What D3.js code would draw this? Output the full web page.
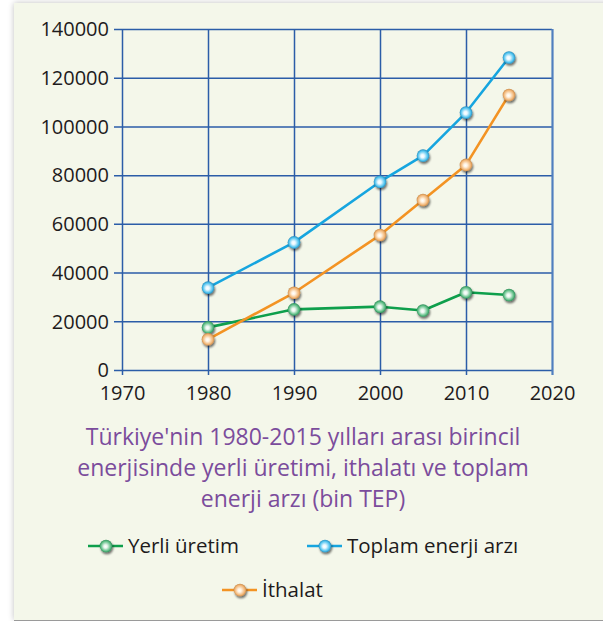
<!DOCTYPE html>
<html><head><meta charset="utf-8">
<script src="https://cdn.jsdelivr.net/npm/d3@7"></script>
<style>
html,body{margin:0;padding:0;background:#fff;}
svg{display:block;}
</style></head>
<body>
<script>
const years = [1980, 1990, 2000, 2005, 2010, 2015];
const yerliUretim = [17500, 24900, 26000, 24400, 31900, 30800];
const ithalat = [12600, 31700, 55400, 69800, 84200, 112900];
const toplamArz = [33800, 52400, 77300, 88000, 105700, 128300];
const xTicks = [1970, 1980, 1990, 2000, 2010, 2020];
const yTicks = [0, 20000, 40000, 60000, 80000, 100000, 120000, 140000];
const titleLines = ["Türkiye'nin 1980-2015 yılları arası birincil", "enerjisinde yerli üretimi, ithalatı ve toplam", "enerji arzı (bin TEP)"];
const seriesNames = ["Yerli üretim", "Toplam enerji arzı", "İthalat"];

const W = 603, H = 621;
const svg = d3.select("body").append("svg").attr("width", W).attr("height", H);
const defs = svg.append("defs");

// panel shadow
const sh = defs.append("filter").attr("id","pshadow").attr("x","-5%").attr("y","-5%").attr("width","110%").attr("height","110%");
sh.append("feGaussianBlur").attr("in","SourceAlpha").attr("stdDeviation",3);
sh.append("feOffset").attr("dx",0).attr("dy",0).attr("result","b");
sh.append("feComponentTransfer").append("feFuncA").attr("type","linear").attr("slope",0.25);
const shm = sh.append("feMerge"); shm.append("feMergeNode"); shm.append("feMergeNode").attr("in","SourceGraphic");

svg.append("rect").attr("x",14).attr("y",3).attr("width",W-14+10).attr("height",617)
  .attr("fill","#f4f7ea").attr("filter","url(#pshadow)");
svg.append("line").attr("x1",14).attr("x2",W).attr("y1",620.5).attr("y2",620.5).attr("stroke","#9a9a9a").attr("stroke-width",1);

// marker shadow
const ms = defs.append("filter").attr("id","mshadow").attr("x","-50%").attr("y","-50%").attr("width","200%").attr("height","200%");
ms.append("feGaussianBlur").attr("in","SourceAlpha").attr("stdDeviation",1.3);
ms.append("feOffset").attr("dx",1.2).attr("dy",1.5).attr("result","o");
ms.append("feComponentTransfer").append("feFuncA").attr("type","linear").attr("slope",0.55);
const msm = ms.append("feMerge"); msm.append("feMergeNode"); msm.append("feMergeNode").attr("in","SourceGraphic");

const styles = [
  {name: seriesNames[0], values: yerliUretim, line:"#0e9f4c", light:"#e9f6ee", mid:"#5fbf86", dark:"#1d7a48", id:"gG"},
  {name: seriesNames[2], values: ithalat, line:"#f39323", light:"#fff3e3", mid:"#f2b676", dark:"#b9793a", id:"gO"},
  {name: seriesNames[1], values: toplamArz, line:"#16a5df", light:"#eaf8ff", mid:"#4fc3ef", dark:"#1b78a8", id:"gB"}
];
styles.forEach(s => {
  const g = defs.append("radialGradient").attr("id", s.id).attr("cx","50%").attr("cy","50%").attr("r","55%").attr("fx","45%").attr("fy","55%");
  g.append("stop").attr("offset","0%").attr("stop-color","#ffffff");
  g.append("stop").attr("offset","25%").attr("stop-color",s.light);
  g.append("stop").attr("offset","70%").attr("stop-color",s.mid);
  g.append("stop").attr("offset","100%").attr("stop-color",s.dark);
});

const x = d3.scaleLinear().domain([1970, 2020]).range([122, 552]);
const y = d3.scaleLinear().domain([0, 140000]).range([370, 29]);
const gridColor = "#2b5da8";
const font = "'Open Sans', 'Noto Sans', sans-serif";
const fs = 20;

// Y axis / grid
const yAxis = svg.append("g").attr("transform","translate(122,0)")
  .call(d3.axisLeft(y).tickValues(yTicks).tickFormat(d3.format("d")).tickSize(0).tickPadding(13));
yAxis.select(".domain").remove();
yAxis.selectAll(".tick line").attr("x1",-8).attr("x2",x(2020)-122).attr("stroke",gridColor).attr("stroke-width",1.5);
yAxis.selectAll(".tick text").attr("font-family",font).attr("font-size",fs).attr("fill","#1e1b1c").attr("dy","0.34em");

// X axis / grid
const xAxis = svg.append("g").attr("transform","translate(0,370)")
  .call(d3.axisBottom(x).tickValues(xTicks).tickFormat(d3.format("d")).tickSize(0).tickPadding(16));
xAxis.select(".domain").remove();
xAxis.selectAll(".tick line").attr("y1",5).attr("y2",y(140000)-370).attr("stroke",gridColor).attr("stroke-width",1.5);
xAxis.selectAll(".tick").filter(d => d===2020).select("line").attr("stroke","#4f7fbf").attr("stroke-width",2.2);
xAxis.selectAll(".tick text").attr("font-family",font).attr("font-size",fs).attr("fill","#1e1b1c").attr("dy","0.71em");

// lines
const lineGen = d3.line().x((d,i)=>x(years[i])).y(d=>y(d));
styles.forEach(s => {
  svg.append("path").datum(s.values).attr("d", lineGen).attr("fill","none")
    .attr("stroke", s.line).attr("stroke-width", 2.6).attr("stroke-linejoin","round");
});
styles.forEach(s => {
  svg.append("g").selectAll("circle").data(s.values).join("circle")
    .attr("cx",(d,i)=>x(years[i])).attr("cy",d=>y(d)).attr("r",6.3)
    .attr("fill",`url(#${s.id})`).attr("filter","url(#mshadow)");
});

// title
svg.append("text").attr("x",303).attr("y",445).attr("text-anchor","middle")
  .attr("font-family",font).attr("font-size",23).attr("fill","#7b4c9c")
  .selectAll("tspan").data(titleLines).join("tspan")
  .attr("x",303).attr("dy",(d,i)=> i===0?0:31).text(d=>d);

// legend
const legendItems = [
  {s: styles[0], cx: 106, cy: 546},
  {s: styles[2], cx: 325, cy: 546},
  {s: styles[1], cx: 240, cy: 590}
];
legendItems.forEach(it => {
  const g = svg.append("g");
  g.append("line").attr("x1",it.cx-18).attr("x2",it.cx+17).attr("y1",it.cy).attr("y2",it.cy)
    .attr("stroke",it.s.line).attr("stroke-width",2.6);
  g.append("circle").attr("cx",it.cx).attr("cy",it.cy).attr("r",6.3)
    .attr("fill",`url(#${it.s.id})`).attr("filter","url(#mshadow)");
  g.append("text").attr("x",it.cx+22).attr("y",it.cy).attr("dy","0.35em")
    .attr("font-family",font).attr("font-size",20.5).attr("fill","#1e1b1c").text(it.s.name);
});
</script>
</body></html>
